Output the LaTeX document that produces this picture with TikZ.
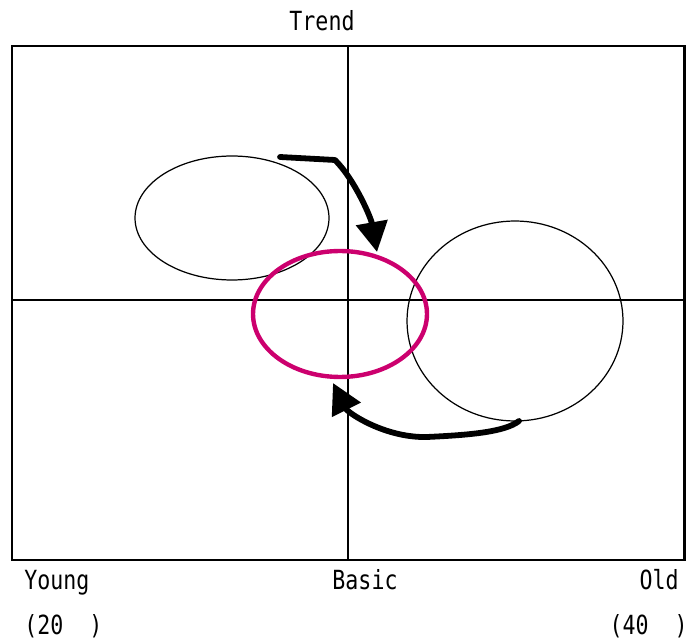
\documentclass[tikz,border=0pt]{standalone}
\usepackage{fontspec}
\newfontfamily\labelfont[FakeStretch=0.82]{DejaVu Sans Mono}
\usepackage{xcolor}
\usepackage{tikz}
\usetikzlibrary{arrows.meta,shapes.geometric,calc}

\definecolor{ringcol}{RGB}{204,0,110}

\begin{document}
\begin{tikzpicture}[
    x=0.02cm, y=-0.02cm,
    every node/.style={font=\fontsize{15}{18}\selectfont\labelfont,inner sep=0pt},
    group/.style={ellipse,draw,line width=0.7pt,inner sep=0pt},
    ring/.style={ellipse,draw=ringcol,line width=2.5pt,inner sep=0pt},
    shiftarrow/.style={-{Triangle[length=0.6cm,width=0.62cm]},line width=3.3pt,line cap=round,line join=round},
]
\useasboundingbox (0,0) rectangle (686,641);

% frame and axes
\coordinate (tl) at (12,46);
\coordinate (br) at (684,560);
\draw[line width=1.7pt] (tl) rectangle (br);
\draw[line width=1.1pt] (348,46) -- (348,560);
\draw[line width=1.1pt] (12,300) -- (684,300);

% groups
\node[group,minimum width=3.88cm,minimum height=2.48cm] (trend) at (232,218) {};
\node[group,minimum width=4.32cm,minimum height=4.0cm]  (old)   at (515,321) {};
\node[ring,minimum width=3.48cm,minimum height=2.52cm]  (basic) at (340,314) {};

% shifts
\coordinate (s1) at (280,157);
\coordinate (e1) at (377,252);
\draw[shiftarrow] (s1) -- (335,160) .. controls (355,180) and (371,218) .. (e1);
\coordinate (s2) at (519,421);
\coordinate (e2) at (333,383);
\draw[shiftarrow] (s2) .. controls (505,432) and (470,435) .. (427,437)
    .. controls (385,438) and (348,413) .. (e2);

% labels
\node[anchor=base] (ttrend) at (322,31) {Trend};
\node[anchor=base west] (tyoung) at (24,589) {Young};
\node[anchor=base] (tbasic) at (365,589) {Basic};
\node[anchor=base east] (told) at (679,589) {Old};
\node[anchor=base west] (tage1) at (24,634) {(20\ \ )};
\node[anchor=base east] (tage2) at (688,634) {(40\ \ )};
\end{tikzpicture}
\end{document}
